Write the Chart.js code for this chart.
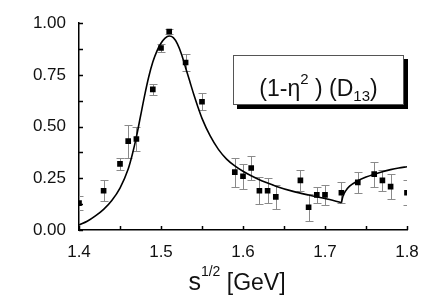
<!DOCTYPE html>
<html>
<head>
<meta charset="utf-8">
<script src="https://cdn.jsdelivr.net/npm/chart.js@4.4.1/dist/chart.umd.min.js"></script>
<style>
  html, body { margin: 0; padding: 0; background: #fff; }
  #wrap { width: 432px; height: 300px; }
</style>
</head>
<body>
<div id="wrap"><canvas id="fitChart"></canvas></div>
<script>
// --- data ---
const pointX = [1.40, 1.43, 1.45, 1.46, 1.47, 1.49, 1.50, 1.51, 1.53, 1.55,
                1.59, 1.60, 1.61, 1.62, 1.63, 1.64, 1.67, 1.68, 1.69, 1.70,
                1.72, 1.74, 1.76, 1.77, 1.78, 1.80];
const pointY = [0.13, 0.19, 0.32, 0.43, 0.44, 0.68, 0.88, 0.96, 0.81, 0.62,
                0.28, 0.26, 0.30, 0.19, 0.19, 0.16, 0.24, 0.11, 0.17, 0.17,
                0.18, 0.23, 0.27, 0.24, 0.21, 0.18];
const pointErr = [0.035, 0.05, 0.03, 0.08, 0.06, 0.028, 0.02, 0.01, 0.04, 0.042,
                  0.07, 0.06, 0.06, 0.065, 0.06, 0.06, 0.05, 0.065, 0.04, 0.05,
                  0.05, 0.05, 0.06, 0.05, 0.062, 0.06];

// fit curve below the threshold at 1.72 GeV
const curveX = [1.40, 1.41, 1.42, 1.43, 1.44, 1.45, 1.46, 1.465, 1.47, 1.475,
                1.48, 1.485, 1.49, 1.495, 1.50, 1.505, 1.51, 1.515, 1.52, 1.525,
                1.53, 1.535, 1.54, 1.545, 1.55, 1.56, 1.57, 1.58, 1.59, 1.60,
                1.61, 1.62, 1.63, 1.64, 1.66, 1.68, 1.70, 1.72];
const curveY = [0.024, 0.042, 0.068, 0.10, 0.143, 0.203, 0.295, 0.365, 0.45, 0.55,
                0.65, 0.74, 0.812, 0.865, 0.903, 0.928, 0.938, 0.93, 0.9, 0.85,
                0.785, 0.72, 0.655, 0.595, 0.54, 0.455, 0.39, 0.343, 0.31, 0.284,
                0.262, 0.243, 0.227, 0.212, 0.188, 0.169, 0.152, 0.132];
// fit curve above the threshold
const curve2X = [1.72, 1.722, 1.725, 1.73, 1.74, 1.75, 1.76, 1.77, 1.78, 1.79, 1.80];
const curve2Y = [0.132, 0.165, 0.188, 0.212, 0.238, 0.256, 0.27, 0.282, 0.292, 0.30, 0.306];

const xTicks = [1.4, 1.5, 1.6, 1.7, 1.8];
const yTicks = [0.00, 0.25, 0.50, 0.75, 1.00];

const labelFont = '"Liberation Sans", Arial, sans-serif';

// error bars, inward ticks, label box and axis title
const decorPlugin = {
    id: 'decor',
    beforeDatasetsDraw(chart) {
        const { ctx, chartArea: a, scales: { x, y } } = chart;
        ctx.save();
        ctx.beginPath();
        ctx.rect(a.left, a.top - 2, a.right - a.left, a.bottom - a.top + 4);
        ctx.clip();
        ctx.strokeStyle = '#8a8a8a';
        ctx.lineWidth = 1;
        pointX.forEach((v, i) => {
            const px = Math.round(x.getPixelForValue(v)) + 0.5;
            const top = Math.round(y.getPixelForValue(pointY[i] + pointErr[i])) + 0.5;
            const bot = Math.round(y.getPixelForValue(pointY[i] - pointErr[i])) + 0.5;
            ctx.beginPath();
            ctx.moveTo(px, top); ctx.lineTo(px, bot);
            ctx.moveTo(px - 4, top); ctx.lineTo(px + 4, top);
            ctx.moveTo(px - 4, bot); ctx.lineTo(px + 4, bot);
            ctx.stroke();
        });
        ctx.restore();
    },
    afterDraw(chart) {
        const { ctx, chartArea: a, scales: { x, y } } = chart;
        ctx.save();
        ctx.strokeStyle = '#000';
        ctx.lineWidth = 1.5;
        // inward ticks
        for (let v = 0; v <= 1.0001; v += 0.125) {
            const py = Math.round(y.getPixelForValue(v)) + 0.5;
            ctx.beginPath(); ctx.moveTo(a.left, py); ctx.lineTo(a.left + 4, py); ctx.stroke();
        }
        for (let v = 1.4; v <= 1.8001; v += 0.05) {
            const px = Math.round(x.getPixelForValue(v)) + 0.5;
            ctx.beginPath(); ctx.moveTo(px, a.bottom); ctx.lineTo(px, a.bottom - 4); ctx.stroke();
        }

        // label box with drop shadow
        const bx = 233, by = 55, bw = 171, bh = 50;
        ctx.fillStyle = '#000';
        ctx.fillRect(bx + 4, by + 4, bw, bh);
        ctx.fillStyle = '#fff';
        ctx.fillRect(bx, by, bw, bh);
        ctx.lineWidth = 1;
        ctx.strokeStyle = '#555';
        ctx.strokeRect(bx + 0.5, by + 0.5, bw - 1, bh - 1);

        const parts = [
            { t: '(1-\u03B7', f: 23, dy: 0 },
            { t: '2', f: 15, dy: -12 },
            { t: ' ) (D', f: 23, dy: 0 },
            { t: '13', f: 15, dy: 5 },
            { t: ')', f: 23, dy: 0 }
        ];
        drawParts(ctx, parts, bx + bw / 2, 96);

        // x axis title
        const title = [
            { t: 's', f: 25, dy: 0 },
            { t: '1/2', f: 14, dy: -14 },
            { t: ' [GeV]', f: 23, dy: 0 }
        ];
        drawParts(ctx, title, 237, 290);
        ctx.restore();
    }
};

function drawParts(ctx, parts, cx, baseline) {
    let total = 0;
    parts.forEach(p => { ctx.font = p.f + 'px ' + labelFont; total += ctx.measureText(p.t).width; });
    let cur = cx - total / 2;
    ctx.fillStyle = '#111';
    ctx.textBaseline = 'alphabetic';
    ctx.textAlign = 'left';
    parts.forEach(p => {
        ctx.font = p.f + 'px ' + labelFont;
        ctx.fillText(p.t, cur, baseline + p.dy);
        cur += ctx.measureText(p.t).width;
    });
}

const curveStyle = {
    type: 'line',
    borderColor: '#000',
    borderWidth: 1.6,
    pointRadius: 0,
    cubicInterpolationMode: 'monotone',
    fill: false
};

new Chart(document.getElementById('fitChart'), {
    type: 'scatter',
    data: {
        datasets: [
            Object.assign({ data: curveX.map((v, i) => ({ x: v, y: curveY[i] })) }, curveStyle),
            Object.assign({ data: curve2X.map((v, i) => ({ x: v, y: curve2Y[i] })) }, curveStyle),
            {
                data: pointX.map((v, i) => ({ x: v, y: pointY[i] })),
                pointStyle: 'rect',
                pointRadius: 4,
                backgroundColor: '#000',
                borderWidth: 0
            }
        ]
    },
    options: {
        responsive: true,
        maintainAspectRatio: false,
        animation: false,
        layout: { padding: { top: 20, right: 25, left: 0, bottom: 0 } },
        plugins: { legend: { display: false }, tooltip: { enabled: false } },
        scales: {
            x: {
                type: 'linear',
                min: 1.4, max: 1.8,
                afterFit: (s) => { s.height = 70; },
                afterBuildTicks: (s) => { s.ticks = xTicks.map(v => ({ value: v })); },
                grid: { drawOnChartArea: false, drawTicks: false },
                border: { display: true, color: '#000', width: 1.5 },
                ticks: {
                    padding: 12,
                    color: '#111',
                    font: { size: 17, family: labelFont },
                    callback: (v) => v.toFixed(1)
                }
            },
            y: {
                min: 0, max: 1,
                afterFit: (s) => { s.width = 79; },
                afterBuildTicks: (s) => { s.ticks = yTicks.map(v => ({ value: v })); },
                grid: { drawOnChartArea: false, drawTicks: false },
                border: { display: true, color: '#000', width: 1.5 },
                ticks: {
                    padding: 13,
                    color: '#111',
                    font: { size: 17, family: labelFont },
                    callback: (v) => v.toFixed(2)
                }
            }
        }
    },
    plugins: [decorPlugin]
});
</script>
</body>
</html>
